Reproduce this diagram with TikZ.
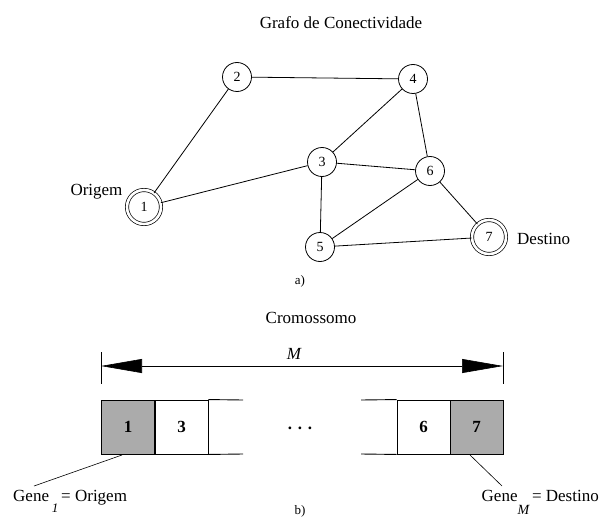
\documentclass[tikz,border=0pt]{standalone}
\usepackage{fontspec}
\setmainfont{Liberation Serif}
\usetikzlibrary{arrows.meta}
\begin{document}
\begin{tikzpicture}[x=1pt,y=-1pt,
  vert/.style={circle,draw,line width=0.8pt,minimum size=29pt,inner sep=0pt,font=\fontsize{14}{16}\selectfont},
  endv/.style={circle,draw,line width=0.7pt,double,double distance=2.6pt,minimum size=34pt,inner sep=0pt,font=\fontsize{14}{16}\selectfont},
  edge/.style={line width=0.8pt},
  lbl/.style={font=\fontsize{17}{19}\selectfont,inner sep=0pt},
  small/.style={font=\fontsize{13}{15}\selectfont,inner sep=0pt},
  gene/.style={draw,line width=0.9pt,minimum width=53pt,minimum height=54pt,inner sep=0pt,font=\fontsize{17}{19}\selectfont\bfseries},
  gfill/.style={fill=black!33}]
\useasboundingbox (0,0) rectangle (599,524);
% part a
\node[lbl,anchor=base] (t1) at (341,29) {Grafo de Conectividade};
\node[vert] (n2) at (237,77) {2};
\node[vert] (n4) at (413,79) {4};
\node[vert] (n3) at (322,162) {3};
\node[vert] (n6) at (430,171) {6};
\node[endv] (n1) at (144,207) {1};
\node[vert] (n5) at (320,247) {5};
\node[endv] (n7) at (489,237) {7};
\node[lbl,anchor=base] (lo) at (96.5,195) {Origem};
\node[lbl,anchor=base west] (ld) at (517,244) {Destino};
\node[small,anchor=base] (la) at (300,284) {a)};
\draw[edge] (n1) -- (n2);
\draw[edge] (n1) -- (n3);
\draw[edge] (n2) -- (n4);
\draw[edge] (n4) -- (n3);
\draw[edge] (n4) -- (n6);
\draw[edge] (n3) -- (n6);
\draw[edge] (n3) -- (n5);
\draw[edge] (n5) -- (n6);
\draw[edge] (n5) -- (n7);
\draw[edge] (n6) -- (n7);
% part b
\node[lbl,anchor=base] (t2) at (311,323) {Cromossomo};
\coordinate (tl1) at (101,352); \coordinate (tl2) at (101,384);
\coordinate (tr1) at (503,352); \coordinate (tr2) at (503,384);
\draw[line width=0.5pt] (tl1) -- (tl2);
\draw[line width=0.5pt] (tr1) -- (tr2);
\coordinate (al) at (101,366); \coordinate (ar) at (503,366);
\draw[line width=0.6pt,{Triangle[length=41pt,width=14pt]}-{Triangle[length=41pt,width=14pt]}] (al) -- (ar);
\node[lbl,anchor=base] (lm) at (294,359) {\itshape M};
\node[gene,gfill] (g1) at (128,427) {1};
\node[gene] (g3) at (181.5,427) {3};
\node[gene] (g6) at (423.5,427) {6};
\node[gene,gfill] (g7) at (476.5,427) {7};
\coordinate (e1t) at (243,400); \coordinate (e1b) at (243,454);
\coordinate (e2t) at (361,400); \coordinate (e2b) at (361,454);
\coordinate (v1t) at (208,400); \coordinate (v1b) at (208,454);
\draw[line width=0.9pt] (g3.north east) -- (e1t);
\draw[line width=0.9pt] (g3.south east) -- (e1b);
\draw[line width=0.9pt] (v1t) -- (v1b);
\draw[line width=0.9pt] (g6.north west) -- (e2t);
\draw[line width=0.9pt] (g6.south west) -- (e2b);
\node[font=\fontsize{17}{19}\selectfont\bfseries] (dots) at (300,428) {. . .};
\coordinate (c1) at (122,455); \coordinate (c1e) at (34,486);
\coordinate (c7) at (470,455); \coordinate (c7e) at (502,486);
\draw[line width=0.6pt] (c1) -- (c1e);
\draw[line width=0.6pt] (c7) -- (c7e);
\node[lbl,anchor=base west] (gl) at (13,501) {Gene\,\raisebox{-11pt}{\fontsize{13}{15}\selectfont\itshape 1}\,= Origem};
\node[lbl,anchor=base east] (gr) at (599,501) {Gene\raisebox{-13pt}{\fontsize{14}{16}\selectfont\itshape M}\,= Destino};
\node[small,anchor=base] (lb) at (300,514) {b)};
\end{tikzpicture}
\end{document}
